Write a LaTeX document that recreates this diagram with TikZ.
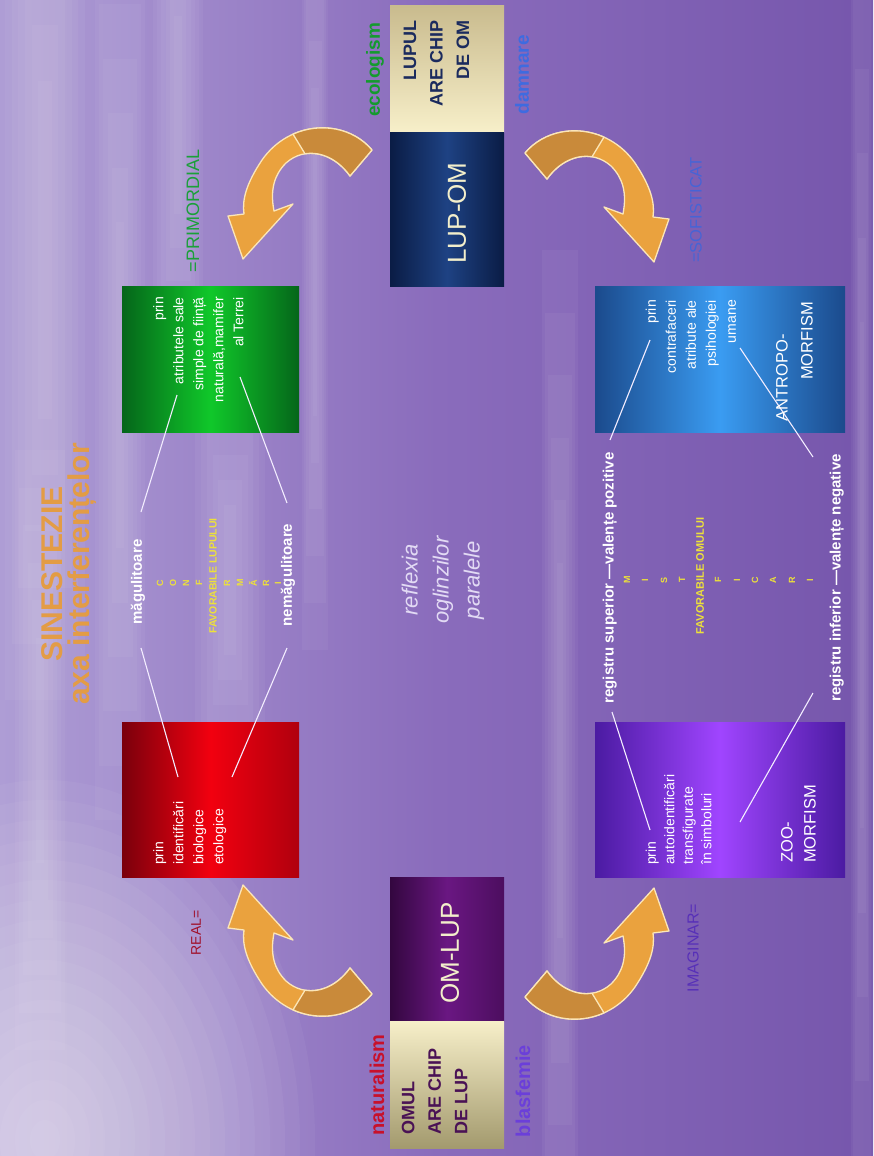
\documentclass[tikz,border=0pt]{standalone}
\usepackage{fontspec}
\setmainfont{Liberation Sans}

\definecolor{bgleft}{HTML}{AE9DD5}
\definecolor{bgmid}{HTML}{8A6CBC}
\definecolor{bgright}{HTML}{7656AC}
\definecolor{titleorange}{HTML}{E39C45}
\definecolor{navydark}{HTML}{0A1C45}
\definecolor{navymid}{HTML}{1E4283}
\definecolor{creamlight}{HTML}{F7EFC9}
\definecolor{creamdark}{HTML}{C9BB8E}
\definecolor{creamolive}{HTML}{A39A6E}
\definecolor{plumdark}{HTML}{33073F}
\definecolor{plummid}{HTML}{6A1782}
\definecolor{plumright}{HTML}{4C0E5F}
\definecolor{greendark}{HTML}{05661A}
\definecolor{greenlight}{HTML}{10C82A}
\definecolor{reddark}{HTML}{7A000C}
\definecolor{redlight}{HTML}{F2000F}
\definecolor{redright}{HTML}{B0000E}
\definecolor{bluedark}{HTML}{1B4A8C}
\definecolor{bluelight}{HTML}{3A9CF2}
\definecolor{violetdark}{HTML}{4B1BA2}
\definecolor{violetlight}{HTML}{A045FF}
\definecolor{lupnavy}{HTML}{1B2B5E}
\definecolor{omulplum}{HTML}{4A1255}
\definecolor{capcream}{HTML}{F3EFCB}
\definecolor{ecogreen}{HTML}{149A2E}
\definecolor{damblue}{HTML}{3E6BE0}
\definecolor{natred}{HTML}{C8102A}
\definecolor{blaspurple}{HTML}{6B3FD9}
\definecolor{realred}{HTML}{A0102A}
\definecolor{imagpurple}{HTML}{5730B8}
\definecolor{soficblue}{HTML}{4664D6}
\definecolor{primgreen}{HTML}{1AA038}
\definecolor{crossyellow}{HTML}{EDE13A}
\definecolor{mirror}{HTML}{E2DAF4}
\definecolor{linkwhite}{HTML}{F3EDFF}
\definecolor{arrowlight}{HTML}{EAA23E}
\definecolor{arrowdark}{HTML}{C98A3A}
\definecolor{arrowedge}{HTML}{FBE6B8}

\tikzset{
  panel/.style={inner sep=0pt, outer sep=0pt},
  rot/.style={rotate=90, inner sep=0pt},
  boxtext/.style={rot, text=white, font=\fontsize{14}{20}\selectfont},
  link/.style={draw=linkwhite, line width=1.1pt},
  cross/.style={rot, text=crossyellow, font=\bfseries\fontsize{9}{10}\selectfont},
  swoosh/.style={fill=arrowlight, draw=arrowedge, line width=1.3pt, line join=round},
  swooshback/.style={fill=arrowdark, draw=arrowedge, line width=1.3pt, line join=round},
  haze/.style={white, opacity=.045},
}

% curved arrow, drawn round the centre of the slide
\newcommand{\swooshpath}{%
  \path[swoosh] (-75,-422) .. controls (-102,-454) and (-157,-452) .. (-185,-412)
    .. controls (-201,-388) and (-205,-372) .. (-203,-358)
    -- (-219,-356) -- (-204,-313) -- (-154,-368) -- (-173,-361)
    .. controls (-177,-382) and (-173,-397) .. (-161,-409)
    .. controls (-142,-426) and (-114,-420) .. (-97,-396) -- cycle;
  \path[swooshback] (-75,-422) .. controls (-93.9,-444.4) and (-126.5,-450.1) .. (-154,-437.9)
    -- (-142,-418.2) .. controls (-126.2,-420.8) and (-108.9,-412.8) .. (-97,-396) -- cycle;
}

\begin{document}
\begin{tikzpicture}[x=1pt, y=-1pt]
\useasboundingbox (0,0) rectangle (873,1156);

% background
\shade[left color=bgleft, right color=bgright, middle color=bgmid] (0,0) rectangle (873,1156);
\foreach \cx/\w/\ya/\yb in {45/80/-200/700, 40/50/450/1050, 120/50/-50/820, 178/50/-150/380,
    230/70/380/780, 315/26/-100/650, 560/36/250/1250, 862/22/-100/1250}
  \foreach \k in {1,...,6}
    \fill[haze] ({\cx-\w*\k/12},{\ya+(\yb-\ya)*(6-\k)/16}) rectangle ({\cx+\w*\k/12},{\yb-(\yb-\ya)*(6-\k)/16});
\foreach \r in {20,40,...,360}
  \fill[haze] (45,1140) ellipse [x radius=0.75*\r, y radius=\r];

% arrows
\begin{scope}[shift={(447,572)}]
  \swooshpath
\end{scope}
\begin{scope}[shift={(450,575)}, xscale=-1]
  \swooshpath
\end{scope}
\begin{scope}[shift={(447,572)}, yscale=-1]
  \swooshpath
\end{scope}
\begin{scope}[shift={(450,575)}, xscale=-1, yscale=-1]
  \swooshpath
\end{scope}

% boxes
\node[panel, minimum width=114pt, minimum height=126pt, top color=creamdark, bottom color=creamlight] (lupul) at (447,69) {};
\node[panel, minimum width=114pt, minimum height=154pt, left color=navydark, right color=navydark, middle color=navymid] (lupom) at (447,209) {};
\node[panel, minimum width=114pt, minimum height=144pt, left color=plumdark, right color=plumright, middle color=plummid] (omlup) at (447,949) {};
\node[panel, minimum width=114pt, minimum height=127pt, top color=creamlight, bottom color=creamolive] (omul) at (447,1084.5) {};
\node[panel, minimum width=177pt, minimum height=146pt, left color=greendark, right color=greendark, middle color=greenlight] (green) at (210.5,359) {};
\node[panel, minimum width=177pt, minimum height=155pt, left color=reddark, right color=redright, middle color=redlight] (red) at (210.5,799.5) {};
\node[panel, minimum width=250pt, minimum height=146pt, left color=bluedark, right color=bluedark, middle color=bluelight] (blue) at (720,359) {};
\node[panel, minimum width=250pt, minimum height=155pt, left color=violetdark, right color=violetdark, middle color=violetlight] (violet) at (720,799.5) {};

% links
\coordinate (gr1) at (177,395); \coordinate (mg1) at (141,512);
\coordinate (gr2) at (240,377); \coordinate (ng1) at (287,503);
\coordinate (mg2) at (141,648); \coordinate (rd1) at (178,777);
\coordinate (ng2) at (287,648); \coordinate (rd2) at (232,777);
\coordinate (bl1) at (650,340); \coordinate (su1) at (610,440);
\coordinate (bl2) at (740,348); \coordinate (in1) at (813,457);
\coordinate (su2) at (612,712); \coordinate (vi1) at (650,830);
\coordinate (in2) at (813,693); \coordinate (vi2) at (740,822);
\draw[link] (gr1) -- (mg1);
\draw[link] (gr2) -- (ng1);
\draw[link] (mg2) -- (rd1);
\draw[link] (ng2) -- (rd2);
\draw[link] (bl1) -- (su1);
\draw[link] (bl2) -- (in1);
\draw[link] (su2) -- (vi1);
\draw[link] (in2) -- (vi2);

% texts
\node[rot, align=center, text=titleorange, font=\bfseries\fontsize{30}{27}\selectfont] (title) at (69,574) {SINESTEZIE\\axa interferențelor};
\node[rot, anchor=north east, align=right, text=lupnavy, font=\bfseries\fontsize{18}{26.5}\selectfont] (lupultxt) at (403.5,20) {LUPUL\\ARE CHIP\\DE OM};
\node[rot, text=capcream, font=\fontsize{26}{26}\selectfont] (lupomtxt) at (457,213) {LUP-OM};
\node[rot, text=capcream, font=\fontsize{26}{26}\selectfont] (omluptxt) at (450,953) {OM-LUP};
\node[rot, anchor=north west, align=left, text=omulplum, font=\bfseries\fontsize{18}{26.5}\selectfont] (omultxt) at (401.5,1135) {OMUL\\ARE CHIP\\DE LUP};

\node[rot, text=ecogreen, font=\bfseries\fontsize{19}{20}\selectfont] (eco) at (375,70) {ecologism};
\node[rot, text=damblue, font=\bfseries\fontsize{19}{20}\selectfont] (damn) at (522,75) {damnare};
\node[rot, text=natred, font=\bfseries\fontsize{20}{20}\selectfont] (natur) at (377,1085) {naturalism};
\node[rot, text=blaspurple, font=\bfseries\fontsize{20}{20}\selectfont] (blasf) at (523,1091) {blasfemie};
\node[rot, text=primgreen, font=\fontsize{18}{20}\selectfont] (primord) at (193,211) {=PRIMORDIAL};
\node[rot, text=soficblue, font=\fontsize{16.5}{20}\selectfont] (sofist) at (696,210) {=SOFISTICAT};
\node[rot, text=realred, font=\fontsize{14}{16}\selectfont] (real) at (196,933) {REAL=};
\node[rot, text=imagpurple, font=\fontsize{16}{18}\selectfont] (imag) at (693,948) {IMAGINAR=};

\node[boxtext, anchor=north east, align=right] (greentxt) at (153,297) {prin\\atributele sale\\simple de ființă\\naturală,mamifer\\al Terrei};
\node[boxtext, anchor=north west, align=left] (redtxt) at (153,865) {prin\\identificări\\biologice\\etologice};
\node[boxtext, anchor=north east, align=right] (bluetxt) at (645.5,300) {prin\\contrafaceri\\atribute ale\\psihologiei\\umane};
\node[boxtext, anchor=north west, align=left, font=\fontsize{14}{18.5}\selectfont] (violettxt) at (645.5,865) {prin\\autoidentificări\\transfigurate\\în simboluri};
\node[rot, text=white, font=\fontsize{16.5}{20}\selectfont] (antro) at (782,378) {ANTROPO-};
\node[rot, text=white, font=\fontsize{16.5}{20}\selectfont] (antrob) at (807,341) {MORFISM};
\node[rot, anchor=north west, align=left, text=white, font=\fontsize{16.5}{23}\selectfont] (zoo) at (781,863) {ZOO-\\MORFISM};

\node[rot, text=white, font=\bfseries\fontsize{15}{18}\selectfont] (mag) at (138,582) {măgulitoare};
\node[rot, text=white, font=\bfseries\fontsize{15}{18}\selectfont] (nemag) at (288,575) {nemăgulitoare};
\node[rot, text=crossyellow, font=\bfseries\fontsize{10.5}{12}\selectfont] (favlup) at (213,576) {FAVORABILE LUPULUI};
\foreach \ch/\px [count=\i] in {C/160,O/173,N/186,F/199,R/227,M/240,Ă/253,R/266,I/278}
  \node[cross] (conf\i) at (\px,583) {\ch};

\node[rot, align=center, text=mirror, font=\itshape\fontsize{22}{31}\selectfont] (reflex) at (443,580) {reflexia\\oglinzilor\\paralele};

\node[rot, text=white, font=\bfseries\fontsize{15}{18}\selectfont] (superior) at (610,578) {registru superior —valențe pozitive};
\node[rot, text=white, font=\bfseries\fontsize{15}{18}\selectfont] (inferior) at (837,578) {registru inferior —valențe negative};
\node[rot, text=crossyellow, font=\bfseries\fontsize{11}{12}\selectfont] (favom) at (700,576) {FAVORABILE OMULUI};
\foreach \ch/\px [count=\i] in {M/627,I/645,S/664,T/682,F/718,I/737,C/755,A/773,R/792,I/810}
  \node[cross] (mist\i) at (\px,580) {\ch};
\end{tikzpicture}
\end{document}
